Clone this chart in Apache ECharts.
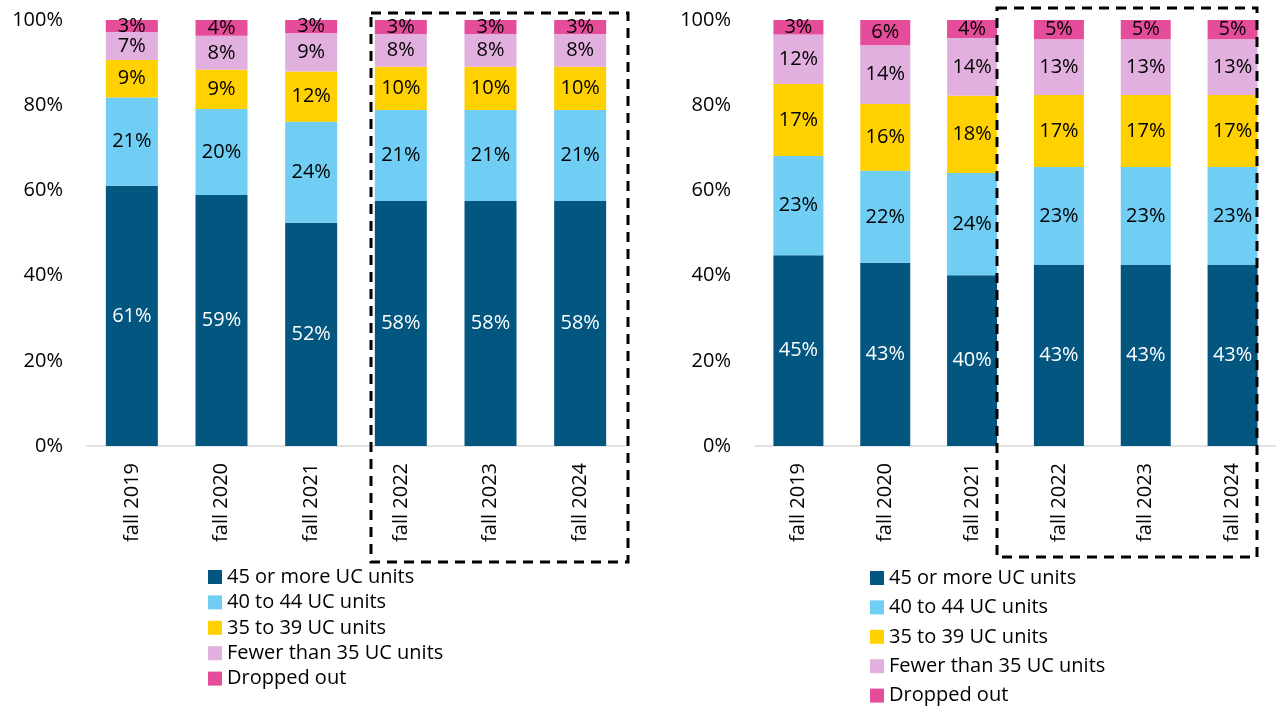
<!DOCTYPE html>
<html>
<head>
<meta charset="utf-8">
<title>UC units by fall term</title>
<script src="https://cdn.jsdelivr.net/npm/echarts@6/dist/echarts.min.js"></script>
<style>
  html, body { margin: 0; padding: 0; background: #fff; }
  #chart { width: 1276px; height: 707px; }
</style>
</head>
<body>
<div id="chart"></div>
<script>
// categories + series names
var terms = ['fall 2019', 'fall 2020', 'fall 2021', 'fall 2022', 'fall 2023', 'fall 2024'];
var seriesNames = ['45 or more UC units', '40 to 44 UC units', '35 to 39 UC units', 'Fewer than 35 UC units', 'Dropped out'];
var yTicks = [0, 20, 40, 60, 80, 100];

// left panel (percent of cohort)
var leftUnits45 = [61.1, 58.9, 52.4, 57.5, 57.5, 57.5];
var leftUnits40 = [20.7, 20.2, 23.7, 21.4, 21.4, 21.4];
var leftUnits35 = [8.8, 9.2, 11.8, 10.1, 10.1, 10.1];
var leftFewer = [6.6, 8.0, 9.0, 7.7, 7.7, 7.7];
var leftDropped = [2.8, 3.7, 3.1, 3.3, 3.3, 3.3];

// right panel
var rightUnits45 = [44.8, 43.0, 40.1, 42.5, 42.5, 42.5];
var rightUnits40 = [23.3, 21.6, 24.0, 23.0, 23.0, 23.0];
var rightUnits35 = [16.9, 15.7, 18.1, 16.9, 16.9, 16.9];
var rightFewer = [11.6, 13.8, 13.6, 13.1, 13.1, 13.1];
var rightDropped = [3.4, 5.9, 4.2, 4.5, 4.5, 4.5];

var colors = ['#025680', '#70cdf3', '#ffd100', '#e2b0de', '#e54c9a'];
var font = 'Open Sans';

var chart = echarts.init(document.getElementById('chart'));

function makeSeries(data, idx, panel, barW) {
  return {
    name: seriesNames[idx],
    type: 'bar',
    stack: 'p' + panel,
    xAxisIndex: panel,
    yAxisIndex: panel,
    barWidth: barW,
    data: data,
    itemStyle: { color: colors[idx] },
    label: {
      show: true,
      position: 'inside',
      fontFamily: font,
      fontSize: 20,
      color: idx === 0 ? '#fff' : '#000',
      formatter: function (p) { return Math.round(p.value) + '%'; }
    },
    emphasis: { disabled: true },
    animation: false
  };
}

function xAxis(grid) {
  return {
    type: 'category',
    gridIndex: grid,
    data: terms,
    axisLine: { lineStyle: { color: '#d9d9d9', width: 1.5 } },
    axisTick: { show: false },
    axisLabel: { rotate: 90, margin: 17, fontFamily: font, fontSize: 20, color: '#000' }
  };
}

function yAxis(grid) {
  return {
    type: 'value',
    gridIndex: grid,
    min: 0,
    max: 100,
    interval: 20,
    axisLine: { show: false },
    axisTick: { show: false },
    splitLine: { show: false },
    axisLabel: {
      margin: 24,
      fontFamily: font,
      fontSize: 20,
      color: '#000',
      formatter: function (v) { return yTicks.indexOf(v) >= 0 ? v + '%' : ''; }
    }
  };
}

function legend(left, top, gap) {
  return {
    orient: 'vertical',
    left: left,
    top: top,
    height: 170,
    padding: 0,
    itemWidth: 14,
    itemHeight: 14,
    itemGap: gap,
    icon: 'rect',
    selectedMode: false,
    data: seriesNames,
    textStyle: { fontFamily: font, fontSize: 20, color: '#000', lineHeight: 20 }
  };
}

var leftData = [leftUnits45, leftUnits40, leftUnits35, leftFewer, leftDropped];
var rightData = [rightUnits45, rightUnits40, rightUnits35, rightFewer, rightDropped];
var series = [];
leftData.forEach(function (d, i) { series.push(makeSeries(d, i, 0, 52)); });
rightData.forEach(function (d, i) { series.push(makeSeries(d, i, 1, 50)); });

chart.setOption({
  animation: false,
  grid: [
    { left: 87, width: 538, top: 20, bottom: 261 },
    { left: 755, width: 527, top: 20, bottom: 261 }
  ],
  xAxis: [xAxis(0), xAxis(1)],
  yAxis: [yAxis(0), yAxis(1)],
  legend: [legend(208, 567, 5.4), legend(870, 568, 9.4)],
  series: series,
  // dashed boxes around the last three terms
  graphic: [
    {
      type: 'rect', z: 100,
      shape: { x: 371, y: 13, width: 257, height: 549 },
      style: { fill: 'none', stroke: '#000', lineWidth: 3, lineDash: [10, 7] }
    },
    {
      type: 'rect', z: 100,
      shape: { x: 997, y: 8, width: 260, height: 549 },
      style: { fill: 'none', stroke: '#000', lineWidth: 3, lineDash: [10, 7] }
    }
  ]
});
</script>
</body>
</html>
